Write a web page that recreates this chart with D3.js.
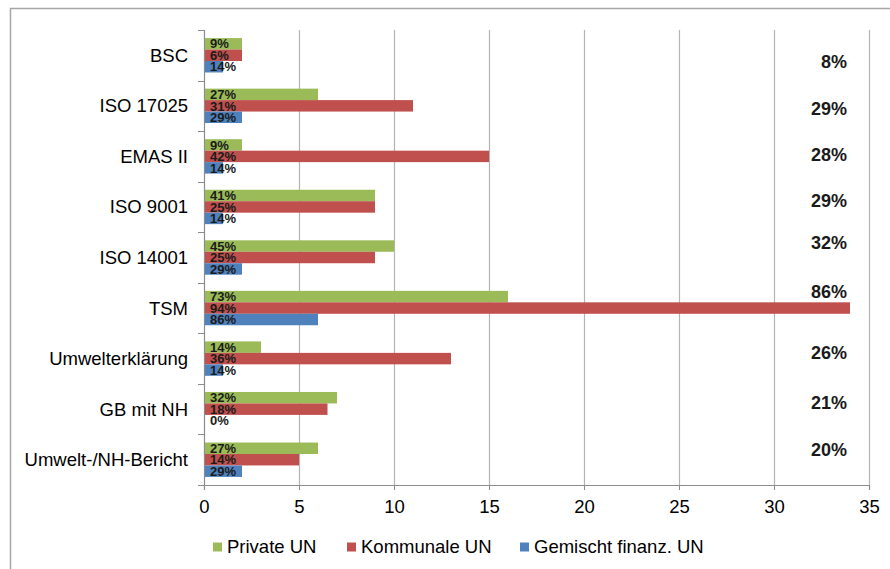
<!DOCTYPE html>
<html>
<head>
<meta charset="utf-8">
<script src="https://cdn.jsdelivr.net/npm/d3@7"></script>
<style>
  body { margin: 0; background: #fff; overflow: hidden; }
  svg text { font-family: "Liberation Sans", Arial, sans-serif; }
</style>
</head>
<body>
<div id="chart"></div>
<script>
const Categories = ["BSC", "ISO 17025", "EMAS II", "ISO 9001", "ISO 14001", "TSM",
                    "Umwelterklärung", "GB mit NH", "Umwelt-/NH-Bericht"];

const PrivateValues   = [2, 6, 2, 9, 10, 16, 3, 7, 6];
const KommunalValues  = [2, 11, 15, 9, 9, 34, 13, 6.5, 5];
const GemischtValues  = [1, 2, 1, 1, 2, 6, 1, 0, 2];

const PrivateLabels  = ["9%", "27%", "9%", "41%", "45%", "73%", "14%", "32%", "27%"];
const KommunalLabels = ["6%", "31%", "42%", "25%", "25%", "94%", "36%", "18%", "14%"];
const GemischtLabels = ["14%", "29%", "14%", "14%", "29%", "86%", "14%", "0%", "29%"];

const TotalLabels = ["8%", "29%", "28%", "29%", "32%", "86%", "26%", "21%", "20%"];

const XTicks = [0, 5, 10, 15, 20, 25, 30, 35];

const SeriesNames = ["Private UN", "Kommunale UN", "Gemischt finanz. UN"];
const SeriesColors = ["#9BBB59", "#C0504D", "#4F81BD"];

// hand placed text boxes in the original, nudged off the band centre
const totalNudge = [6, 3, -2, -6, -15, -16, -6, -6, -10];

function drawChart() {
    const width = 890, height = 569;
    const left = 204, right = 869, top = 30, bottom = 485;

    const svg = d3.select("#chart").append("svg")
        .attr("width", width)
        .attr("height", height);

    // outer frame (right and bottom edges fall outside the picture)
    svg.append("rect")
        .attr("x", 10.5).attr("y", 8.5)
        .attr("width", 900).attr("height", 600)
        .attr("fill", "none")
        .attr("stroke", "#a6a6a6")
        .attr("stroke-width", 1.5);

    const x = d3.scaleLinear().domain([0, 35]).range([left, right]);
    const y = d3.scaleBand().domain(Categories).range([top, bottom]);
    const bw = y.bandwidth();
    const inner = d3.scaleBand().domain(SeriesNames).range([bw * 0.16, bw * 0.84]);

    // gridlines
    svg.append("g").selectAll("line")
        .data(XTicks.slice(1))
        .join("line")
        .attr("x1", d => Math.round(x(d)) + 0.5)
        .attr("x2", d => Math.round(x(d)) + 0.5)
        .attr("y1", top).attr("y2", bottom)
        .attr("stroke", "#b4b4b4")
        .attr("stroke-width", 1.2);

    // bottom axis
    const xAxis = svg.append("g")
        .attr("transform", `translate(0,${bottom})`)
        .call(d3.axisBottom(x).tickValues(XTicks).tickSize(5).tickPadding(10));
    xAxis.select(".domain").attr("stroke", "#8c8c8c").attr("stroke-width", 1.2);
    xAxis.selectAll(".tick line").attr("stroke", "#8c8c8c");
    xAxis.selectAll("text")
        .attr("font-size", 18.5)
        .attr("fill", "#000")
        .style("font-family", "'Liberation Sans', Arial, sans-serif");

    // left axis: ticks at band boundaries
    const boundaries = Categories.map(c => y(c)).concat([bottom]);
    svg.append("line")
        .attr("x1", left + 0.5).attr("x2", left + 0.5)
        .attr("y1", top).attr("y2", bottom)
        .attr("stroke", "#8c8c8c").attr("stroke-width", 1.2);
    svg.append("g").selectAll("line")
        .data(boundaries)
        .join("line")
        .attr("x1", left - 6).attr("x2", left)
        .attr("y1", d => Math.round(d) + 0.5)
        .attr("y2", d => Math.round(d) + 0.5)
        .attr("stroke", "#8c8c8c");

    svg.append("g").selectAll("text")
        .data(Categories)
        .join("text")
        .attr("x", 188)
        .attr("y", d => y(d) + bw / 2)
        .attr("dy", "0.35em")
        .attr("text-anchor", "end")
        .attr("font-size", 18.5)
        .text(d => d);

    // bars
    const series = [
        { name: SeriesNames[0], color: SeriesColors[0], values: PrivateValues,  labels: PrivateLabels },
        { name: SeriesNames[1], color: SeriesColors[1], values: KommunalValues, labels: KommunalLabels },
        { name: SeriesNames[2], color: SeriesColors[2], values: GemischtValues, labels: GemischtLabels },
    ];

    series.forEach(s => {
        const rows = Categories.map((c, i) => ({ cat: c, value: s.values[i], label: s.labels[i] }));
        const g = svg.append("g");
        g.selectAll("rect")
            .data(rows)
            .join("rect")
            .attr("x", x(0) + 1)
            .attr("y", d => y(d.cat) + inner(s.name))
            .attr("width", d => Math.max(0, x(d.value) - x(0) - 1))
            .attr("height", inner.bandwidth())
            .attr("fill", s.color);
        g.selectAll("text")
            .data(rows)
            .join("text")
            .attr("x", x(0) + 6)
            .attr("y", d => y(d.cat) + inner(s.name) + inner.bandwidth() / 2)
            .attr("dy", "0.36em")
            .attr("font-size", 13)
            .attr("font-weight", "bold")
            .attr("fill", "#1a1a1a")
            .style("font-family", "'Liberation Sans Narrow', 'Arial Narrow', 'Liberation Sans', sans-serif")
            .text(d => d.label);
    });

    // totals on the right
    svg.append("g").selectAll("text")
        .data(Categories)
        .join("text")
        .attr("x", 847)
        .attr("y", (d, i) => y(d) + bw / 2 + totalNudge[i])
        .attr("dy", "0.35em")
        .attr("text-anchor", "end")
        .attr("font-size", 18)
        .attr("font-weight", "bold")
        .attr("fill", "#1a1a1a")
        .text((d, i) => TotalLabels[i]);

    // legend
    const legendX = [213, 347, 520];
    const legend = svg.append("g").selectAll("g")
        .data(SeriesNames)
        .join("g")
        .attr("transform", (d, i) => `translate(${legendX[i]},547)`);
    legend.append("rect")
        .attr("x", 0).attr("y", -4.5)
        .attr("width", 9).attr("height", 9)
        .attr("fill", (d, i) => SeriesColors[i]);
    legend.append("text")
        .attr("x", 14)
        .attr("dy", "0.35em")
        .attr("font-size", 18.5)
        .text(d => d);
}

drawChart();
</script>
</body>
</html>
